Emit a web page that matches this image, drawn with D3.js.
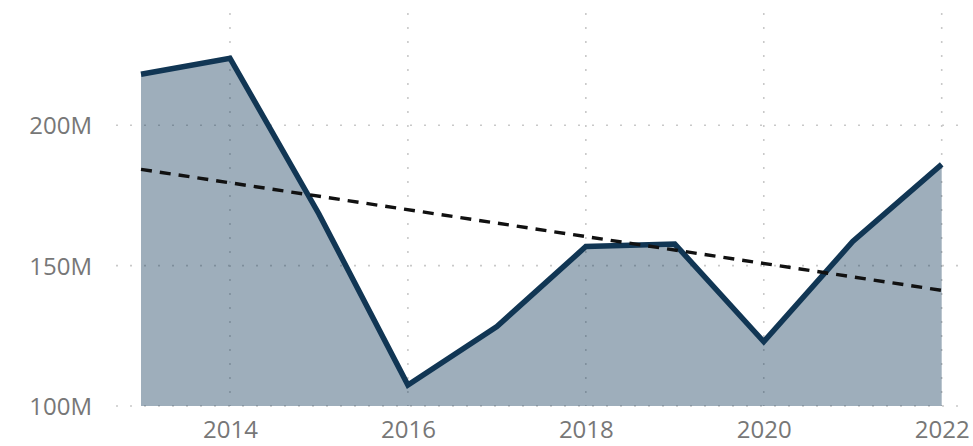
<!DOCTYPE html>
<html>
<head>
<meta charset="utf-8">
<script src="https://cdn.jsdelivr.net/npm/d3@7"></script>
<style>
  html, body { margin: 0; padding: 0; background: #fff; }
  svg { display: block; }
  .tick text { font-family: "Open Sans", "Noto Sans", sans-serif; }
</style>
</head>
<body>
<svg id="chart" width="973" height="446"></svg>
<script>
// Yearly totals (millions)
const years = [2013, 2014, 2015, 2016, 2017, 2018, 2019, 2020, 2021, 2022];
const values = [218.2, 223.9, 168.4, 107.5, 128.3, 156.8, 157.7, 122.9, 158.6, 186.1];

// Linear trend: value at first and last year
const trendYears = [2013, 2022];
const trendValues = [184.3, 141.2];

// Axis ticks
const xTicks = [2014, 2016, 2018, 2020, 2022];
const yTicks = [100, 150, 200];

const svg = d3.select("#chart");

const x = d3.scaleLinear().domain([2013, 2022]).range([141, 941.7]);
const y = d3.scaleLinear().domain([100, 240]).range([406, 13]);

const gridColor = "#c9c9c9";
const labelColor = "#777";

// Horizontal grid
svg.append("g")
  .selectAll("line")
  .data(yTicks)
  .join("line")
  .attr("x1", 116).attr("x2", 960)
  .attr("y1", d => y(d)).attr("y2", d => y(d))
  .attr("stroke", gridColor)
  .attr("stroke-width", 1.6)
  .attr("stroke-dasharray", "2,12");

// Vertical grid
svg.append("g")
  .selectAll("line")
  .data(xTicks)
  .join("line")
  .attr("x1", d => x(d)).attr("x2", d => x(d))
  .attr("y1", y(240)).attr("y2", y(100))
  .attr("stroke", gridColor)
  .attr("stroke-width", 1.6)
  .attr("stroke-dasharray", "2,12");

// Y axis labels
const yAxis = d3.axisLeft(y)
  .tickValues(yTicks)
  .tickSize(0)
  .tickPadding(0)
  .tickFormat(d => d + "M");
const gy = svg.append("g").attr("transform", "translate(92,0)").call(yAxis);
gy.select(".domain").remove();
gy.selectAll("text")
  .attr("fill", labelColor)
  .attr("font-size", 24)
  .attr("dy", "0.36em");

// X axis labels
const xAxis = d3.axisBottom(x)
  .tickValues(xTicks)
  .tickSize(0)
  .tickPadding(0)
  .tickFormat(d3.format("d"));
const gx = svg.append("g").attr("transform", "translate(0,419)").call(xAxis);
gx.select(".domain").remove();
gx.selectAll("text")
  .attr("fill", labelColor)
  .attr("font-size", 24)
  .attr("dy", "0.8em");

const pts = years.map((yr, i) => [yr, values[i]]);

// Area under the series
const area = d3.area()
  .x(d => x(d[0]))
  .y0(y(100))
  .y1(d => y(d[1]));
svg.append("path")
  .datum(pts)
  .attr("d", area)
  .attr("fill", "#173e5c")
  .attr("fill-opacity", 0.42);

// Series line
const line = d3.line()
  .x(d => x(d[0]))
  .y(d => y(d[1]));
svg.append("path")
  .datum(pts)
  .attr("d", line)
  .attr("fill", "none")
  .attr("stroke", "#113654")
  .attr("stroke-width", 5.5)
  .attr("stroke-linejoin", "miter");

// Trend line
svg.append("path")
  .datum(trendYears.map((yr, i) => [yr, trendValues[i]]))
  .attr("d", line)
  .attr("fill", "none")
  .attr("stroke", "#111")
  .attr("stroke-width", 3.4)
  .attr("stroke-dasharray", "11,8");
</script>
</body>
</html>
